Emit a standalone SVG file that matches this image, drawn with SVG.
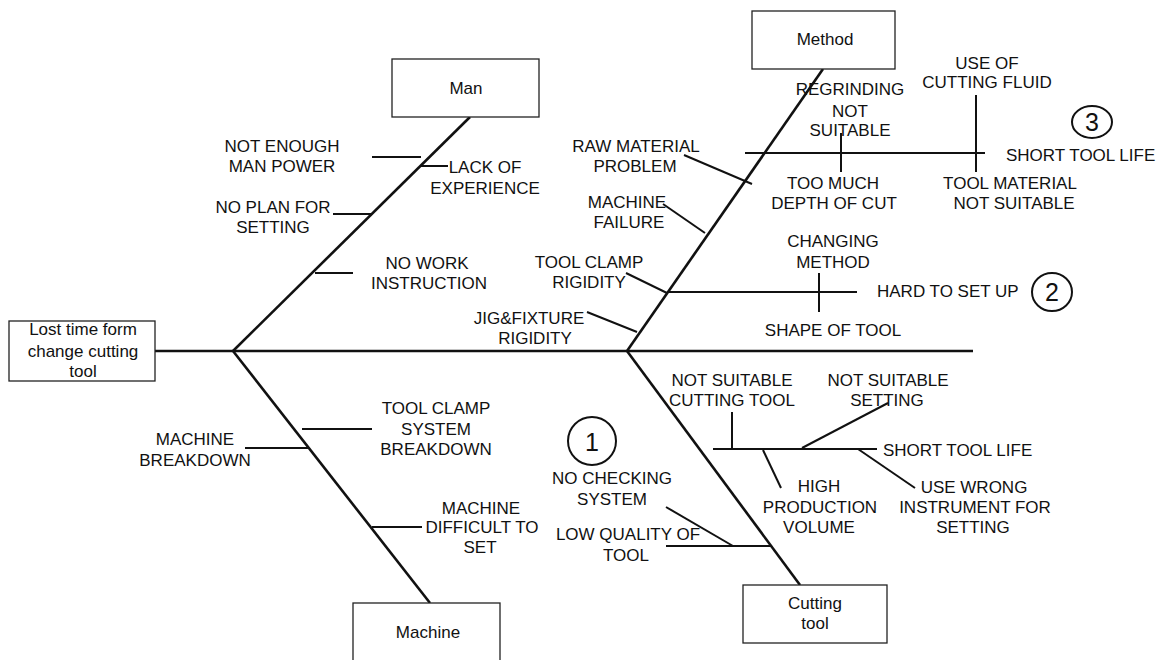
<svg xmlns="http://www.w3.org/2000/svg" width="1162" height="660" viewBox="0 0 1162 660">
<style>
text{font-family:"Liberation Sans",Arial,sans-serif;font-size:17px;fill:#111;text-anchor:middle}
.s{text-anchor:start}
.box{fill:#fff;stroke:#222;stroke-width:1.3}
.bone{stroke:#111;stroke-width:2.6;fill:none}
.sub{stroke:#111;stroke-width:2;fill:none}
.circ{fill:none;stroke:#111;stroke-width:2}
.num{font-size:25px}
</style>
<rect width="1162" height="660" fill="#fff"/>
<g id="connectors">
<line class="bone" x1="155" y1="351" x2="973" y2="351"/>
<line class="bone" x1="233" y1="351" x2="470" y2="117"/>
<line class="bone" x1="233" y1="351" x2="430" y2="603"/>
<line class="bone" x1="627" y1="351" x2="823" y2="69"/>
<line class="bone" x1="627" y1="351" x2="800" y2="585"/>
<!-- Man -->
<line class="sub" x1="372" y1="157" x2="421" y2="157"/>
<line class="sub" x1="421" y1="166" x2="448" y2="166"/>
<line class="sub" x1="333" y1="214" x2="372" y2="214"/>
<line class="sub" x1="315" y1="273" x2="353" y2="273"/>
<!-- Machine -->
<line class="sub" x1="302" y1="429" x2="372" y2="429"/>
<line class="sub" x1="245" y1="448" x2="308" y2="448"/>
<line class="sub" x1="372" y1="527" x2="422" y2="527"/>
<!-- Method -->
<line class="sub" x1="684" y1="155" x2="752" y2="184"/>
<line class="sub" x1="663" y1="204" x2="705" y2="233"/>
<line class="sub" x1="626" y1="273" x2="667" y2="293"/>
<line class="sub" x1="587" y1="312" x2="637" y2="332"/>
<line class="sub" x1="667" y1="292" x2="857" y2="292"/>
<line class="sub" x1="819" y1="273" x2="819" y2="312"/>
<line class="sub" x1="745" y1="153" x2="985" y2="153"/>
<line class="sub" x1="841" y1="133" x2="841" y2="172"/>
<line class="sub" x1="976" y1="95" x2="976" y2="172"/>
<!-- Cutting tool -->
<line class="sub" x1="713" y1="449" x2="877" y2="449"/>
<line class="sub" x1="732" y1="412" x2="732" y2="449"/>
<line class="sub" x1="763" y1="450" x2="781" y2="488"/>
<line class="sub" x1="802" y1="448" x2="888" y2="403"/>
<line class="sub" x1="858" y1="449" x2="915" y2="488"/>
<line class="sub" x1="666" y1="546" x2="771" y2="546"/>
<line class="sub" x1="666" y1="507" x2="733" y2="546"/>
</g>
<g id="effect">
<rect class="box" x="9" y="321" width="146" height="60"/>
<text x="83" y="335">Lost time form</text>
<text x="83" y="357">change cutting</text>
<text x="83" y="377">tool</text>
</g>
<g id="man">
<rect class="box" x="392" y="59" width="147" height="58"/>
<text x="466" y="94">Man</text>
</g>
<g id="method">
<rect class="box" x="752" y="11" width="143" height="58"/>
<text x="825" y="45">Method</text>
</g>
<g id="machine">
<rect class="box" x="353" y="603" width="147" height="62"/>
<text x="428" y="638">Machine</text>
</g>
<g id="cutting-tool">
<rect class="box" x="743" y="585" width="144" height="58"/>
<text x="815" y="609">Cutting</text>
<text x="815" y="629">tool</text>
</g>
<g id="man-causes">
<text x="282" y="152">NOT ENOUGH</text>
<text x="282" y="172">MAN POWER</text>
<text x="485" y="173">LACK OF</text>
<text x="485" y="194">EXPERIENCE</text>
<text x="273" y="213">NO PLAN FOR</text>
<text x="273" y="233">SETTING</text>
<text x="427" y="269">NO WORK</text>
<text x="429" y="289">INSTRUCTION</text>
</g>
<g id="machine-causes">
<text x="436" y="414">TOOL CLAMP</text>
<text x="436" y="435">SYSTEM</text>
<text x="436" y="455">BREAKDOWN</text>
<text x="195" y="445">MACHINE</text>
<text x="195" y="466">BREAKDOWN</text>
<text x="481" y="514">MACHINE</text>
<text x="482" y="533">DIFFICULT TO</text>
<text x="480" y="553">SET</text>
</g>
<g id="method-causes">
<text x="636" y="152">RAW MATERIAL</text>
<text x="635" y="172">PROBLEM</text>
<text x="627" y="208">MACHINE</text>
<text x="629" y="228">FAILURE</text>
<text x="589" y="268">TOOL CLAMP</text>
<text x="589" y="288">RIGIDITY</text>
<text x="529" y="324">JIG&amp;FIXTURE</text>
<text x="535" y="344">RIGIDITY</text>
<text x="833" y="247">CHANGING</text>
<text x="833" y="268">METHOD</text>
<text x="833" y="336">SHAPE OF TOOL</text>
<text class="s" x="877" y="297">HARD TO SET UP</text>
<ellipse class="circ" cx="1052" cy="292" rx="20" ry="19"/>
<text class="num" x="1052" y="301">2</text>
<text x="850" y="95">REGRINDING</text>
<text x="850" y="117">NOT</text>
<text x="850" y="136">SUITABLE</text>
<text x="833" y="189">TOO MUCH</text>
<text x="834" y="209">DEPTH OF CUT</text>
<text x="987" y="69">USE OF</text>
<text x="987" y="88">CUTTING FLUID</text>
<text x="1010" y="189">TOOL MATERIAL</text>
<text x="1014" y="209">NOT SUITABLE</text>
<text class="s" x="1006" y="161">SHORT TOOL LIFE</text>
<ellipse class="circ" cx="1092" cy="122" rx="20" ry="16"/>
<text class="num" x="1092" y="131">3</text>
</g>
<g id="cutting-tool-causes">
<text x="732" y="386">NOT SUITABLE</text>
<text x="732" y="406">CUTTING TOOL</text>
<text x="888" y="386">NOT SUITABLE</text>
<text x="887" y="406">SETTING</text>
<text x="819" y="492">HIGH</text>
<text x="820" y="513">PRODUCTION</text>
<text x="819" y="533">VOLUME</text>
<text class="s" x="883" y="456">SHORT TOOL LIFE</text>
<text x="974" y="493">USE WRONG</text>
<text x="975" y="513">INSTRUMENT FOR</text>
<text x="973" y="533">SETTING</text>
<text x="612" y="484">NO CHECKING</text>
<text x="612" y="505">SYSTEM</text>
<text x="628" y="540">LOW QUALITY OF</text>
<text x="626" y="561">TOOL</text>
<ellipse class="circ" cx="592" cy="441" rx="24" ry="24"/>
<text class="num" x="592" y="451">1</text>
</g>
</svg>
